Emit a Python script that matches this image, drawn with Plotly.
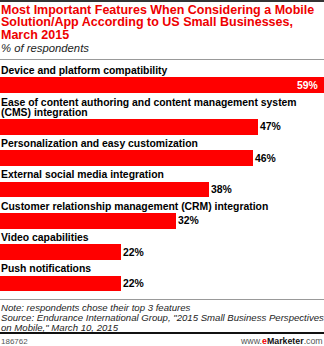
import plotly.graph_objects as go

# ---- data ----
categories = [
    "Device and platform compatibility",
    "Ease of content authoring and content management system\n(CMS) integration",
    "Personalization and easy customization",
    "External social media integration",
    "Customer relationship management (CRM) integration",
    "Video capabilities",
    "Push notifications",
]
values = [59, 47, 46, 38, 32, 22, 22]
value_labels = [f"{v}%" for v in values]

title_lines = [
    "Most Important Features When Considering a Mobile",
    "Solution/App According to US Small Businesses,",
    "March 2015",
]
subtitle = "% of respondents"
note_lines = [
    "Note: respondents chose their top 3 features",
    "Source: Endurance International Group, \"2015 Small Business Perspectives",
    "on Mobile,\" March 10, 2015",
]
chart_id = "186762"

# ---- layout constants ----
W, H = 324, 346
X_MAX = 59.0
RED = "#ff0000"
TITLE_RED = "#ee0000"
BOLD = "Liberation Sans, Arial, sans-serif"
LAB_FS = 10.4

# compute bar positions (pixel units on the y axis)
bar_h = 15.5
row_step = 31.3
extra_line = 10.5
first_top = 77.3
tops = []
extra = 0
for i, c in enumerate(categories):
    extra += (len(c.split("\n")) - 1)
    tops.append(first_top + row_step * i + extra_line * extra)
centers = [t + bar_h / 2 for t in tops]

fig = go.Figure()
fig.add_trace(go.Bar(
    x=values, y=centers, orientation="h", width=bar_h,
    marker=dict(color=RED, line=dict(width=0)),
    hoverinfo="skip",
))

ann = []
# category labels
for c, t in zip(categories, tops):
    lines = c.split("\n")
    n = len(lines)
    for j, ln in enumerate(lines):
        ann.append(dict(
            x=0, y=t - 7 - 10 * (n - 1 - j), xref="x", yref="y",
            text=f"<b>{ln}</b>", showarrow=False, xanchor="left", yanchor="middle",
            font=dict(family=BOLD, size=LAB_FS, color="#000"), borderpad=0,
        ))
# value labels
max_v = max(values)
for v, lab, cy in zip(values, value_labels, centers):
    if v == max_v:
        ann.append(dict(x=v, y=cy, xref="x", yref="y", text=f"<b>{lab}</b>",
                        showarrow=False, xanchor="right", yanchor="middle", xshift=-5,
                        font=dict(family=BOLD, size=LAB_FS, color="#fff"), borderpad=0))
    else:
        ann.append(dict(x=v, y=cy, xref="x", yref="y", text=f"<b>{lab}</b>",
                        showarrow=False, xanchor="left", yanchor="middle", xshift=1,
                        font=dict(family=BOLD, size=LAB_FS, color="#000"), borderpad=0))
# title
for j, tl in enumerate(title_lines):
    ann.append(dict(x=0, y=10 + 12.3 * j, xref="paper", yref="y", text=f"<b>{tl}</b>",
                    showarrow=False, xanchor="left", yanchor="middle",
                    font=dict(family=BOLD, size=12.5, color=TITLE_RED), borderpad=0))
ann.append(dict(x=0, y=48, xref="paper", yref="y", text=f"<i>{subtitle}</i>",
                showarrow=False, xanchor="left", yanchor="middle",
                font=dict(family=BOLD, size=11.3, color="#222"), borderpad=0))
# notes
for j, nl in enumerate(note_lines):
    ann.append(dict(x=0, y=307.5 + 10 * j, xref="paper", yref="y", text=f"<i>{nl}</i>",
                    showarrow=False, xanchor="left", yanchor="middle",
                    font=dict(family=BOLD, size=9.6, color="#222"), borderpad=0))
# footer
ann.append(dict(x=0, y=341, xref="paper", yref="y", text=chart_id,
                showarrow=False, xanchor="left", yanchor="middle",
                font=dict(family=BOLD, size=8, color="#555"), borderpad=0))
ann.append(dict(x=1, y=341, xref="paper", yref="y",
                text="<span style='color:#555'>www.</span><b><span style='color:#ee0000'>e</span>"
                     "<span style='color:#111'>Marketer</span></b><span style='color:#555'>.com</span>",
                showarrow=False, xanchor="right", yanchor="middle",
                font=dict(family=BOLD, size=8.8, color="#555"), borderpad=0))

shapes = [
    dict(type="rect", xref="paper", yref="y", x0=0, x1=1, y0=0, y1=2,
         fillcolor="#333", line=dict(width=0)),
    dict(type="line", xref="paper", yref="y", x0=0, x1=1, y0=59.5, y1=59.5,
         line=dict(color="#999", width=1)),
    dict(type="line", xref="paper", yref="y", x0=0, x1=1, y0=299.5, y1=299.5,
         line=dict(color="#999", width=1)),
    dict(type="rect", xref="paper", yref="y", x0=0, x1=1, y0=332, y1=334,
         fillcolor="#111", line=dict(width=0)),
]

fig.update_layout(
    width=W, height=H, margin=dict(l=0, r=0, t=0, b=0),
    paper_bgcolor="#fff", plot_bgcolor="#fff",
    showlegend=False, bargap=0,
    xaxis=dict(range=[0, X_MAX], visible=False, fixedrange=True),
    yaxis=dict(range=[H, 0], visible=False, fixedrange=True),
    annotations=ann, shapes=shapes,
)
fig.write_html("out.html", config={"displayModeBar": False})
